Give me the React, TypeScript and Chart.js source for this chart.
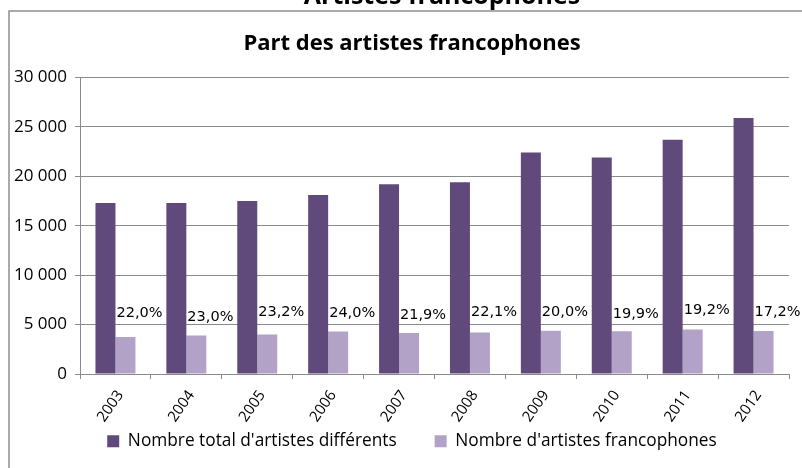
import React, { useEffect, useRef } from "react";
import { Chart, registerables } from "chart.js";

Chart.register(...registerables);

const years = ["2003", "2004", "2005", "2006", "2007", "2008", "2009", "2010", "2011", "2012"];
const totalArtists = [17300, 17300, 17500, 18100, 19200, 19400, 22400, 21900, 23700, 25900];
const francophoneArtists = [3750, 3900, 4000, 4300, 4150, 4200, 4380, 4320, 4500, 4350];
const shareLabels = ["22,0%", "23,0%", "23,2%", "24,0%", "21,9%", "22,1%", "20,0%", "19,9%", "19,2%", "17,2%"];
const shareLabelLevels = [6100, 5720, 6230, 6100, 5900, 6230, 6230, 6000, 6400, 6230];
const yMax = 30000;
const yStep = 5000;
const seriesNames = ["Nombre total d'artistes différents", "Nombre d'artistes francophones"];
const chartTitle = "Part des artistes francophones";
const pageTitle = "Artistes francophones";

const DARK = "#604a7b";
const LIGHT = "#b3a2c7";
const GRID = "#8a8a8a";
const FONT = "'Open Sans'";

const formatThousands = (v: number) => String(v).replace(/\B(?=(\d{3})+(?!\d))/g, " ");

const framePlugin = {
  id: "frame",
  beforeDraw(chart: any) {
    const ctx = chart.ctx;
    ctx.save();
    ctx.strokeStyle = "#8f8f8f";
    ctx.lineWidth = 1.5;
    ctx.strokeRect(9, 11, chart.width + 20, chart.height + 20);
    ctx.fillStyle = "#000";
    ctx.font = `bold 25px ${FONT}`;
    ctx.textAlign = "center";
    ctx.textBaseline = "alphabetic";
    ctx.fillText(pageTitle, 442, 4);
    ctx.restore();
  },
};

const shareLabelPlugin = {
  id: "shareLabels",
  afterDatasetsDraw(chart: any) {
    const ctx = chart.ctx;
    const xs = chart.scales.x;
    const ys = chart.scales.y;
    ctx.save();
    ctx.fillStyle = "#000";
    ctx.font = "14.5px 'DejaVu Sans'";
    ctx.textAlign = "left";
    ctx.textBaseline = "middle";
    shareLabels.forEach((label, i) => {
      ctx.fillText(label, xs.getPixelForValue(i) + 1, ys.getPixelForValue(shareLabelLevels[i]));
    });
    ctx.restore();
  },
};

export default function App() {
  const canvasRef = useRef<HTMLCanvasElement | null>(null);

  useEffect(() => {
    if (!canvasRef.current) return;
    const chart = new Chart(canvasRef.current, {
      type: "bar",
      data: {
        labels: years,
        datasets: [
          {
            label: seriesNames[0],
            data: totalArtists,
            backgroundColor: DARK,
            categoryPercentage: 0.564,
            barPercentage: 1,
          },
          {
            label: seriesNames[1],
            data: francophoneArtists,
            backgroundColor: LIGHT,
            categoryPercentage: 0.564,
            barPercentage: 1,
          },
        ],
      },
      options: {
        animation: false,
        responsive: false,
        layout: { padding: { left: 9, right: 9, top: 11, bottom: 8 } },
        plugins: {
          title: {
            display: true,
            text: chartTitle,
            color: "#000",
            font: { family: FONT, size: 22, weight: "bold" },
            padding: { top: 20, bottom: 20 },
          },
          legend: {
            position: "bottom",
            labels: {
              color: "#000",
              font: { family: FONT, size: 17.3 },
              boxWidth: 12,
              boxHeight: 12,
              padding: 38,
            },
          },
          tooltip: { enabled: false },
        },
        scales: {
          x: {
            grid: { drawOnChartArea: false, drawTicks: true, tickLength: 5, color: GRID },
            border: { color: GRID, width: 1 },
            ticks: {
              color: "#000",
              font: { family: FONT, size: 15 },
              minRotation: 55,
              maxRotation: 55,
              padding: 8,
              labelOffset: 5,
            },
            afterFit: (s: any) => {
              s.height = 20.7;
              s._computeLabelArea = () => undefined;
            },
          },
          y: {
            min: 0,
            max: yMax,
            ticks: {
              stepSize: yStep,
              color: "#000",
              font: { family: FONT, size: 17 },
              padding: 8,
              callback: (v: any) => formatThousands(Number(v)),
            },
            grid: { color: GRID, tickLength: 5, drawTicks: true },
            border: { color: GRID, width: 1 },
            afterFit: (s: any) => {
              s.width = 71;
            },
          },
          yRight: {
            type: "linear",
            position: "right",
            display: true,
            grid: { display: false, drawTicks: false },
            border: { display: false },
            ticks: { display: false },
            afterFit: (s: any) => {
              s.width = 26;
            },
          },
        },
      } as any,
      plugins: [framePlugin, shareLabelPlugin],
    });
    return () => chart.destroy();
  }, []);

  return (
    <div style={{ position: "absolute", left: 0, top: 0, width: 802, height: 468, overflow: "hidden", background: "#fff" }}>
      <canvas ref={canvasRef} width={824} height={468} style={{ display: "block" }} />
    </div>
  );
}
